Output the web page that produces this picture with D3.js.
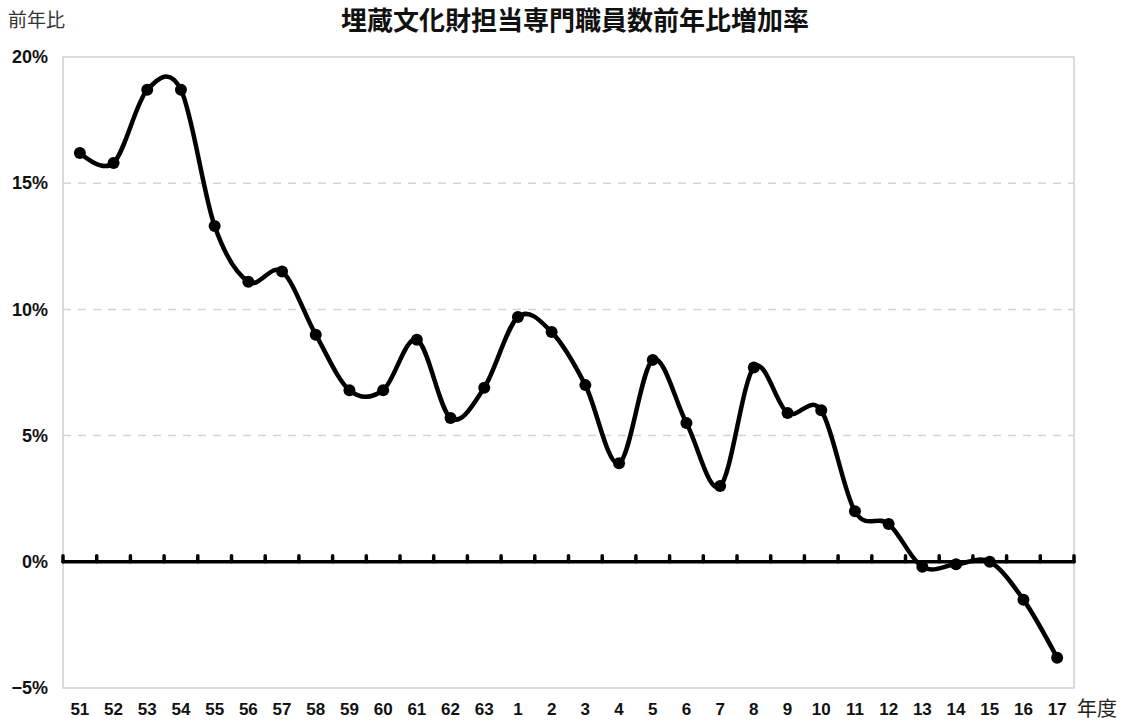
<!DOCTYPE html>
<html><head><meta charset="utf-8">
<script src="https://cdn.jsdelivr.net/npm/d3@7/dist/d3.min.js"></script>
<style>
html,body{margin:0;padding:0;background:#fff;}
svg{display:block;}
</style></head>
<body>
<script>
const categories = ["51","52","53","54","55","56","57","58","59","60","61","62","63","1","2","3","4","5","6","7","8","9","10","11","12","13","14","15","16","17"];
const values = [16.2,15.8,18.7,18.7,13.3,11.1,11.5,9.0,6.8,6.8,8.8,5.7,6.9,9.7,9.1,7.0,3.9,8.0,5.5,3.0,7.7,5.9,6.0,2.0,1.5,-0.2,-0.1,0.0,-1.5,-3.8];
const yTicks = [-5,0,5,10,15,20];
const yTickLabels = ["\u22125%","0%","5%","10%","15%","20%"];
const title = "埋蔵文化財担当専門職員数前年比増加率";
const yTitle = "前年比";
const xTitle = "年度";

const W = 1123, H = 724;
const m = {left:63, right:1074, top:57, bottom:688};
const svg = d3.select("body").append("svg").attr("width",W).attr("height",H);

const x = d3.scaleBand().domain(categories).range([m.left,m.right]).padding(0);
const y = d3.scaleLinear().domain([-5,20]).range([m.bottom,m.top]);
const cx = c => x(c) + x.bandwidth()/2;

const numFont = "'Liberation Sans Narrow','Liberation Sans',Arial,sans-serif";
const cjkFont = "'Noto Sans CJK JP','Noto Sans CJK SC',sans-serif";

// plot border
svg.append("rect").attr("x",m.left).attr("y",m.top)
  .attr("width",m.right-m.left).attr("height",m.bottom-m.top)
  .attr("fill","none").attr("stroke","#cfcfcf").attr("stroke-width",1.5);

// dashed grid
svg.append("g").selectAll("line").data(yTicks.filter(v=>v>0 && v<20)).join("line")
  .attr("x1",m.left).attr("x2",m.right)
  .attr("y1",d=>y(d)).attr("y2",d=>y(d))
  .attr("stroke","#d4d4d4").attr("stroke-width",1.5).attr("stroke-dasharray","8,7");

// y axis labels
const yAxis = d3.axisLeft(y).tickValues(yTicks).tickSize(0).tickPadding(15)
  .tickFormat((d,i)=>yTickLabels[i]);
const gy = svg.append("g").attr("transform",`translate(${m.left},0)`).call(yAxis);
gy.select(".domain").remove();
gy.selectAll("text").attr("font-family",numFont).attr("font-weight","bold")
  .attr("font-size",18).attr("fill","#111");

// x axis labels
const xAxis = d3.axisBottom(x).tickSize(0).tickPadding(0);
const gx = svg.append("g").attr("transform",`translate(0,${m.bottom})`).call(xAxis);
gx.select(".domain").remove();
gx.selectAll("text").attr("font-family",numFont).attr("font-weight","bold")
  .attr("font-size",17).attr("fill","#111").attr("dy",null).attr("y",27);

// zero line with ticks
const y0 = y(0);
svg.append("line").attr("x1",m.left).attr("x2",m.right).attr("y1",y0).attr("y2",y0)
  .attr("stroke","#000").attr("stroke-width",3.5).attr("stroke-linecap","round");
const bounds = categories.map(c=>x(c)).concat([m.right]);
svg.append("g").selectAll("line").data(bounds).join("line")
  .attr("x1",d=>d).attr("x2",d=>d).attr("y1",y0).attr("y2",y0-6)
  .attr("stroke","#000").attr("stroke-width",3.5).attr("stroke-linecap","round");

// line
const data = categories.map((c,i)=>({c, v:values[i]}));
const line = d3.line().x(d=>cx(d.c)).y(d=>y(d.v)).curve(d3.curveCardinal.tension(0));
svg.append("path").datum(data).attr("d",line)
  .attr("fill","none").attr("stroke","#000").attr("stroke-width",4.5).attr("stroke-linejoin","round");
svg.append("g").selectAll("circle").data(data).join("circle")
  .attr("cx",d=>cx(d.c)).attr("cy",d=>y(d.v)).attr("r",6).attr("fill","#000");

// titles
svg.append("text").attr("x",575).attr("y",30).attr("text-anchor","middle")
  .attr("font-family",cjkFont).attr("font-weight","bold").attr("font-size",26)
  .attr("fill","#111").text(title);
svg.append("text").attr("x",8).attr("y",27)
  .attr("font-family",cjkFont).attr("font-size",19).attr("fill","#333").text(yTitle);
svg.append("text").attr("x",1077).attr("y",716)
  .attr("font-family",cjkFont).attr("font-size",20).attr("fill","#222").text(xTitle);
</script>
</body></html>
